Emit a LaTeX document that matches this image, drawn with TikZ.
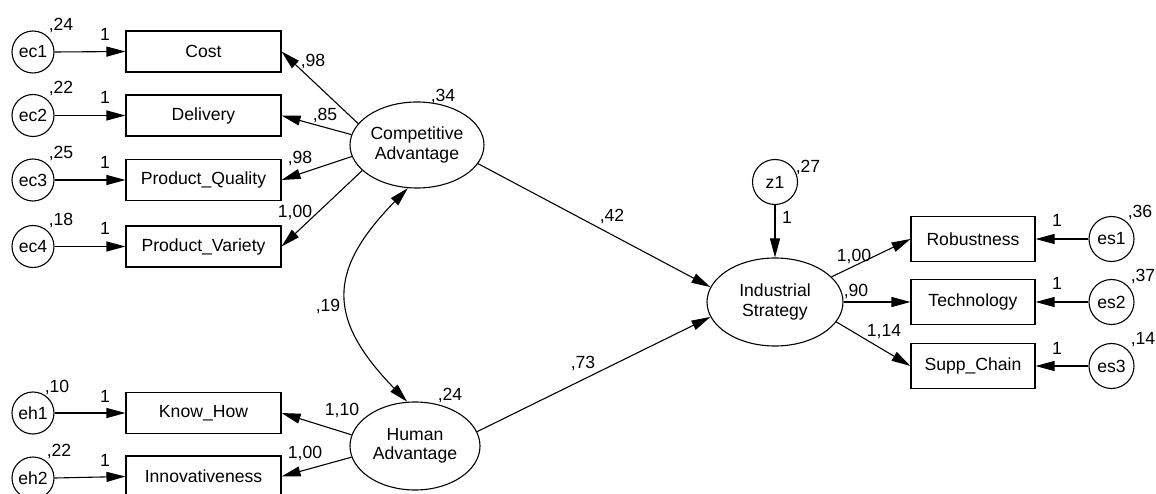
\documentclass[tikz,border=0pt]{standalone}
\usepackage{fontspec}
\setmainfont{Liberation Sans}
\usetikzlibrary{arrows.meta,shapes.geometric}
\begin{document}
\begin{tikzpicture}[x=1pt,y=-1pt,
  every node/.style={font=\fontsize{17.6}{19.5}\selectfont},
  lat/.style={draw, ellipse, inner sep=0pt, align=center, line width=1.1pt},
  err/.style={draw, circle, inner sep=0pt, minimum size=42pt, line width=1.1pt},
  errr/.style={err, minimum size=45pt},
  obs/.style={draw, rectangle, inner sep=0pt, minimum width=155pt, minimum height=41pt, line width=1.1pt},
  obsr/.style={obs, minimum width=124pt, minimum height=45pt},
  pth/.style={-{Triangle[length=19pt,width=10pt]}, line width=1.1pt},
  cov/.style={{Triangle[length=19pt,width=10pt]}-{Triangle[length=19pt,width=10pt]}, line width=1.1pt},
  lbl/.style={inner sep=0pt}
]
\useasboundingbox (0,0) rectangle (1156,494);

% error terms left
\node[err] (ec1) at (33,52) {ec1};
\node[err] (ec2) at (33,115.5) {ec2};
\node[err] (ec3) at (33,180) {ec3};
\node[err] (ec4) at (33,246.5) {ec4};
\node[err] (eh1) at (33,413) {eh1};
\node[err] (eh2) at (33,478) {eh2};

% observed left
\node[obs] (cost) at (203.5,51.5) {Cost};
\node[obs] (deliv) at (203.5,115.5) {Delivery};
\node[obs] (pq) at (203.5,180) {Product\_Quality};
\node[obs] (pv) at (203.5,246.5) {Product\_Variety};
\node[obs] (kh) at (203.5,413) {Know\_How};
\node[obs] (inn) at (203.5,476.5) {Innovativeness};

% latent
\node[lat, minimum width=134pt, minimum height=86pt] (CA) at (417,145) {Competitive\\Advantage};
\node[lat, minimum width=130pt, minimum height=88pt] (HA) at (415,446) {Human\\Advantage};
\node[lat, minimum width=136pt, minimum height=88pt] (IS) at (775,302) {Industrial\\Strategy};
\node[errr] (z1) at (775,182) {z1};

% observed right
\node[obsr] (rob) at (973,239) {Robustness};
\node[obsr] (tech) at (973,302) {Technology};
\node[obsr] (sc) at (973,366) {Supp\_Chain};
\node[errr] (es1) at (1111.5,239) {es1};
\node[errr] (es2) at (1111.5,302) {es2};
\node[errr] (es3) at (1111.5,366) {es3};

% paths
\draw[pth] (ec1.east) -- (cost.west);
\draw[pth] (ec2.east) -- (deliv.west);
\draw[pth] (ec3.east) -- (pq.west);
\draw[pth] (ec4.east) -- (pv.west);
\draw[pth] (eh1.east) -- (kh.west);
\draw[pth] (eh2.east) -- (inn.west);

\draw[pth] (CA.160) -- (cost.east);
\draw[pth] (CA.171) -- (deliv.east);
\draw[pth] (CA.190) -- (pq.east);
\draw[pth] (CA.205) -- (pv.east);
\draw[pth] (HA.170) -- (kh.east);
\draw[pth] (HA.190) -- (inn.east);

\draw[pth] (CA.-17) -- (IS.167);
\draw[pth] (HA.13) -- (IS.193);
\draw[pth] (z1.south) -- (IS.north);

\draw[pth] (IS.24) -- (rob.west);
\draw[pth] (IS.east) -- (tech.west);
\draw[pth] (IS.-18) -- (sc.west);
\draw[pth] (es1.west) -- (rob.east);
\draw[pth] (es2.west) -- (tech.east);
\draw[pth] (es3.west) -- (sc.east);

\draw[cov] (CA.258) .. controls (327,271) and (327,319) .. (HA.100);

% labels
\node[lbl] (v1) at (61,25) {,24};
\node[lbl] (v2) at (61,88) {,22};
\node[lbl] (v3) at (61,153) {,25};
\node[lbl] (v4) at (61,220) {,18};
\node[lbl] (v5) at (57,387) {,10};
\node[lbl] (v6) at (59,451) {,22};
\node[lbl] (o1) at (105,34) {1};
\node[lbl] (o2) at (105,97) {1};
\node[lbl] (o3) at (105,162) {1};
\node[lbl] (o4) at (105,228) {1};
\node[lbl] (o5) at (105,396) {1};
\node[lbl] (o6) at (105,460) {1};

\node[lbl] (w1) at (313,61) {,98};
\node[lbl] (w2) at (325,115) {,85};
\node[lbl] (w3) at (300,158) {,98};
\node[lbl] (w4) at (295,212) {1,00};
\node[lbl] (vca) at (443,96) {,34};
\node[lbl] (c19) at (328,306) {,19};
\node[lbl] (vha) at (450,395) {,24};
\node[lbl] (w5) at (342,410) {1,10};
\node[lbl] (w6) at (305,453) {1,00};
\node[lbl] (b1) at (612,216) {,42};
\node[lbl] (b2) at (583,363) {,73};
\node[lbl] (vz) at (808,167) {,27};
\node[lbl] (oz) at (787,217) {1};
\node[lbl] (w7) at (854,256) {1,00};
\node[lbl] (w8) at (856,291) {,90};
\node[lbl] (w9) at (884,332) {1,14};
\node[lbl] (o7) at (1057,220) {1};
\node[lbl] (o8) at (1057,283) {1};
\node[lbl] (o9) at (1057,348) {1};
\node[lbl] (v7) at (1140,212) {,36};
\node[lbl] (v8) at (1143,276) {,37};
\node[lbl] (v9) at (1143,340) {,14};
\end{tikzpicture}
\end{document}
